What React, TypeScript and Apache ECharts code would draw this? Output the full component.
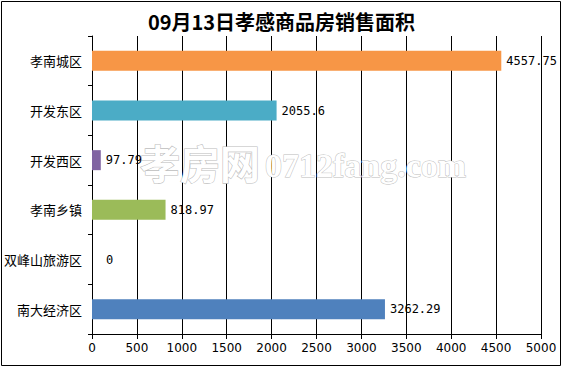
import React, { useEffect, useRef } from "react";
import * as echarts from "echarts";

const categories = ["孝南城区", "开发东区", "开发西区", "孝南乡镇", "双峰山旅游区", "南大经济区"];
const values = [4557.75, 2055.6, 97.79, 818.97, 0, 3262.29];
const valueLabels = ["4557.75", "2055.6", "97.79", "818.97", "0", "3262.29"];
const colors = ["#F79646", "#4BACC6", "#8064A2", "#9BBB59", "#4F81BD", "#4F81BD"];
const title = "09月13日孝感商品房销售面积";

export default function App() {
  const ref = useRef<HTMLDivElement>(null);
  useEffect(() => {
    const chart = echarts.init(ref.current!, null, { renderer: "svg" });
    chart.setOption({
      animation: false,
      backgroundColor: "#ffffff",
      title: {
        text: title,
        left: "center",
        top: 6,
        textStyle: { fontFamily: "Noto Sans CJK SC", fontSize: 20, fontWeight: "bold", color: "#000" },
      },
      graphic: [
        {
          type: "rect",
          shape: { x: 1.5, y: 1.5, width: 559, height: 364 },
          style: { fill: "none", stroke: "#000", lineWidth: 1 },
          silent: true,
          z: 100,
        },
        {
          type: "text",
          x: 140,
          y: 142,
          silent: true,
          z: 5,
          style: {
            text: "孝房网",
            fontSize: 40,
            fontWeight: "bold",
            fontFamily: "Noto Sans CJK SC",
            fill: "#ffffff",
            stroke: "#bdbdbd",
            lineWidth: 1.2,
          },
        },
        {
          type: "text",
          x: 265,
          y: 148,
          silent: true,
          z: 5,
          style: {
            text: "0712fang.com",
            fontSize: 34,
            fontWeight: "bold",
            fontFamily: "Liberation Serif",
            fill: "#ffffff",
            stroke: "#bdbdbd",
            lineWidth: 1,
          },
        },
      ],
      grid: { left: 92, right: 22, top: 36, bottom: 34, containLabel: false },
      xAxis: {
        type: "value",
        min: 0,
        max: 5000,
        interval: 500,
        axisLine: { show: true, lineStyle: { color: "#000", width: 1 } },
        axisTick: { show: true, length: 5, lineStyle: { color: "#000" } },
        axisLabel: {
          color: "#000",
          fontSize: 12,
          fontFamily: "DejaVu Sans",
          margin: 8,
          formatter: (v: number) => String(v),
        },
        splitLine: { show: true, lineStyle: { color: "#000", width: 1 } },
      },
      yAxis: {
        type: "category",
        data: categories,
        inverse: true,
        axisLine: { show: true, lineStyle: { color: "#000", width: 1 } },
        axisTick: { show: true, length: 4, lineStyle: { color: "#000" } },
        axisLabel: { color: "#000", fontSize: 13, fontFamily: "Noto Sans CJK SC", margin: 10 },
      },
      series: [
        {
          type: "bar",
          barWidth: 20,
          data: values.map((v, i) => ({
            value: v,
            itemStyle: { color: colors[i] },
            label: {
              show: true,
              position: "right",
              distance: i === 4 ? 14 : 5,
              formatter: valueLabels[i],
              color: "#000",
              fontSize: 12,
              fontFamily: "DejaVu Sans Mono",
            },
          })),
          z: 60,
        },
      ],
    });
    return () => chart.dispose();
  }, []);
  return <div ref={ref} style={{ position: "fixed", left: 0, top: 0, width: 563, height: 368 }} />;
}
